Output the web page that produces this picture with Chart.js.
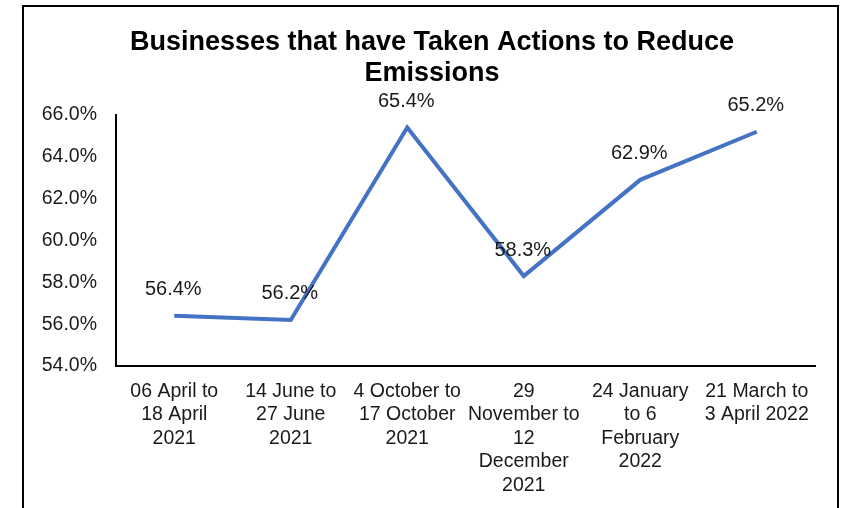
<!DOCTYPE html>
<html>
<head>
<meta charset="utf-8">
<script src="https://cdn.jsdelivr.net/npm/chart.js@4.4.1/dist/chart.umd.min.js"></script>
<style>
  html, body { margin: 0; padding: 0; background: #fff; }
  #wrap { position: relative; width: 841px; height: 508px; }
</style>
</head>
<body>
<div id="wrap"><canvas id="c" width="841" height="508"></canvas></div>
<script>
// Survey periods
const periods = [
  ['06 April to', '18 April', '2021'],
  ['14 June to', '27 June', '2021'],
  ['4 October to', '17 October', '2021'],
  ['29', 'November to', '12', 'December', '2021'],
  ['24 January', 'to 6', 'February', '2022'],
  ['21 March to', '3 April 2022']
];
// Share of businesses that have taken actions (%)
const shares = [56.4, 56.2, 65.4, 58.3, 62.9, 65.2];
const titleLines = ['Businesses that have Taken Actions to Reduce', 'Emissions'];

const FONT = '"Liberation Sans", Arial, sans-serif';

// Frame around the whole chart and the two-line title
const framePlugin = {
  id: 'frame',
  beforeDraw(chart) {
    const ctx = chart.ctx;
    ctx.save();
    ctx.fillStyle = '#fff';
    ctx.fillRect(0, 0, chart.width, chart.height);
    ctx.strokeStyle = '#000';
    ctx.lineWidth = 2;
    ctx.strokeRect(23, 6, 815, 600);
    ctx.restore();
  },
  afterDraw(chart) {
    const ctx = chart.ctx;
    ctx.save();
    ctx.fillStyle = '#000';
    ctx.font = 'bold 27px ' + FONT;
    ctx.textAlign = 'center';
    ctx.textBaseline = 'alphabetic';
    ctx.fillText(titleLines[0], 432, 50);
    ctx.fillText(titleLines[1], 432, 81);
    ctx.restore();
  }
};

// Value labels above each point
const valueLabels = {
  id: 'valueLabels',
  afterDatasetsDraw(chart) {
    const ctx = chart.ctx;
    const meta = chart.getDatasetMeta(0);
    ctx.save();
    ctx.fillStyle = '#1a1a1a';
    ctx.font = '20px ' + FONT;
    ctx.textAlign = 'center';
    ctx.textBaseline = 'middle';
    meta.data.forEach((pt, i) => {
      ctx.fillText(shares[i].toFixed(1) + '%', pt.x - 1, pt.y - 26);
    });
    ctx.restore();
  }
};

new Chart(document.getElementById('c'), {
  type: 'line',
  data: {
    labels: periods,
    datasets: [{
      data: shares,
      borderColor: '#4472C4',
      borderWidth: 4,
      pointRadius: 0,
      tension: 0,
      fill: false
    }]
  },
  options: {
    responsive: false,
    animation: false,
    layout: { padding: { top: 115, right: 26, left: 0, bottom: 0 } },
    plugins: {
      legend: { display: false },
      title: { display: false },
      tooltip: { enabled: false }
    },
    scales: {
      x: {
        offset: true,
        grid: { display: false },
        border: { color: '#000', width: 2 },
        ticks: {
          color: '#1a1a1a',
          font: { family: FONT, size: 19.5, lineHeight: 1.2 },
          maxRotation: 0,
          autoSkip: false,
          padding: 6
        },
        afterFit(scale) { scale.height = 142; }
      },
      y: {
        min: 54,
        max: 66,
        grid: { display: false },
        border: { color: '#000', width: 2 },
        ticks: {
          stepSize: 2,
          color: '#1a1a1a',
          font: { family: FONT, size: 19.5 },
          padding: 11,
          callback: v => v.toFixed(1) + '%'
        },
        afterFit(scale) { scale.width = 116; }
      }
    }
  },
  plugins: [framePlugin, valueLabels]
});
</script>
</body>
</html>
